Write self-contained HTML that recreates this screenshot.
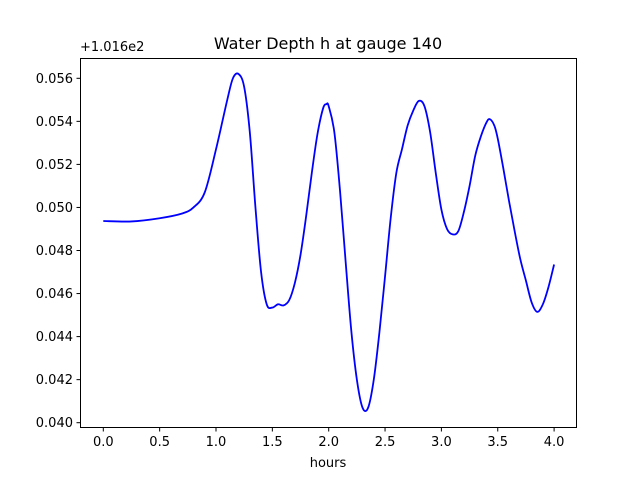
<!DOCTYPE html>
<html><head><meta charset="utf-8"><style>
body{margin:0;background:#fff;}
svg{display:block;font-family:"DejaVu Sans","Liberation Sans",sans-serif;}
</style></head><body>
<svg id="chart" width="640" height="480">
<rect width="640" height="480" fill="#fff"/>
<text x="328" y="49" text-anchor="middle" font-size="16">Water Depth h at gauge 140</text>
<text x="80" y="51" font-size="13">+1.016e2</text>
<text x="328" y="467" text-anchor="middle" font-size="13">hours</text>
<g id="plot"></g>
<rect x="80.5" y="58.5" width="496" height="369" fill="none" stroke="#000" stroke-width="1"/>
</svg>
<script>
const hours=[0,0.25,0.5,0.7,0.8,0.9,1.0,1.1,1.15,1.2,1.25,1.3,1.35,1.4,1.45,1.5,1.55,1.6,1.65,1.7,1.75,1.8,1.85,1.9,1.95,1.98,2.0,2.05,2.1,2.15,2.2,2.25,2.3,2.35,2.4,2.45,2.5,2.55,2.6,2.65,2.7,2.75,2.8,2.85,2.9,2.95,3.0,3.05,3.1,3.15,3.2,3.25,3.3,3.35,3.4,3.43,3.47,3.5,3.55,3.6,3.65,3.7,3.75,3.8,3.85,3.9,3.95,4.0];
const depthOffset=[0.04937,0.04935,0.0495,0.04972,0.05,0.0507,0.0527,0.055,0.056,0.0562,0.0556,0.0535,0.050,0.047,0.0455,0.04535,0.0455,0.04545,0.0457,0.0465,0.0478,0.0496,0.0516,0.0534,0.0546,0.0548,0.0547,0.0535,0.0508,0.0475,0.0443,0.042,0.0407,0.0407,0.042,0.0442,0.0468,0.0495,0.0516,0.0527,0.0538,0.0545,0.05495,0.0547,0.0535,0.0516,0.0499,0.049,0.04875,0.0489,0.0498,0.051,0.0524,0.0533,0.05395,0.0541,0.0538,0.0532,0.0518,0.0503,0.0489,0.0476,0.0466,0.0456,0.04515,0.0455,0.0463,0.04735];
const xTicks=[0,0.5,1.0,1.5,2.0,2.5,3.0,3.5,4.0];
const xTickLabels=["0.0","0.5","1.0","1.5","2.0","2.5","3.0","3.5","4.0"];
const yTicks=[0.040,0.042,0.044,0.046,0.048,0.050,0.052,0.054,0.056];
const yTickLabels=[".040",".042",".044",".046",".048",".050",".052",".054",".056"];
const NS="http://www.w3.org/2000/svg";
const X=h=>103.3+h*112.7;
const Y=v=>422.7-(v-0.040)*21525;
const g=document.getElementById('plot');
function mk(t,a){const e=document.createElementNS(NS,t);for(const k in a)e.setAttribute(k,a[k]);return e;}
xTicks.forEach((t,i)=>{
 const l=mk('line',{x1:X(t),x2:X(t),y1:427.5,y2:431.5,stroke:'#000'});
 
 
 g.appendChild(l);
 const tx=mk('text',{x:X(t),y:446,'text-anchor':'middle','font-size':'13'});
 tx.textContent=xTickLabels[i];
 
 
 g.appendChild(tx);
});
yTicks.forEach((t,i)=>{
 const l=mk('line',{x1:76.5,x2:80.5,y1:Y(t),y2:Y(t),stroke:'#000'});
 
 
 g.appendChild(l);
 const tx=mk('text',{x:73,y:Y(t)+4.5,'text-anchor':'end','font-size':'13'});
 tx.textContent='0'+yTickLabels[i];
 
 
 g.appendChild(tx);
});
const pts=hours.map((h,i)=>[X(h),Y(depthOffset[i])]);
let d='M'+pts[0][0]+','+pts[0][1];
for(let i=0;i<pts.length-1;i++){
 const p0=pts[Math.max(0,i-1)],p1=pts[i],p2=pts[i+1],p3=pts[Math.min(pts.length-1,i+2)];
 const c1=[p1[0]+(p2[0]-p0[0])/6,p1[1]+(p2[1]-p0[1])/6];
 const c2=[p2[0]-(p3[0]-p1[0])/6,p2[1]-(p3[1]-p1[1])/6];
 d+=` C${c1[0]},${c1[1]} ${c2[0]},${c2[1]} ${p2[0]},${p2[1]}`;
}
const line=mk('path',{d:d,fill:'none',stroke:'#0000ff','stroke-width':'1.8'});


g.appendChild(line);
</script>
</body></html>
